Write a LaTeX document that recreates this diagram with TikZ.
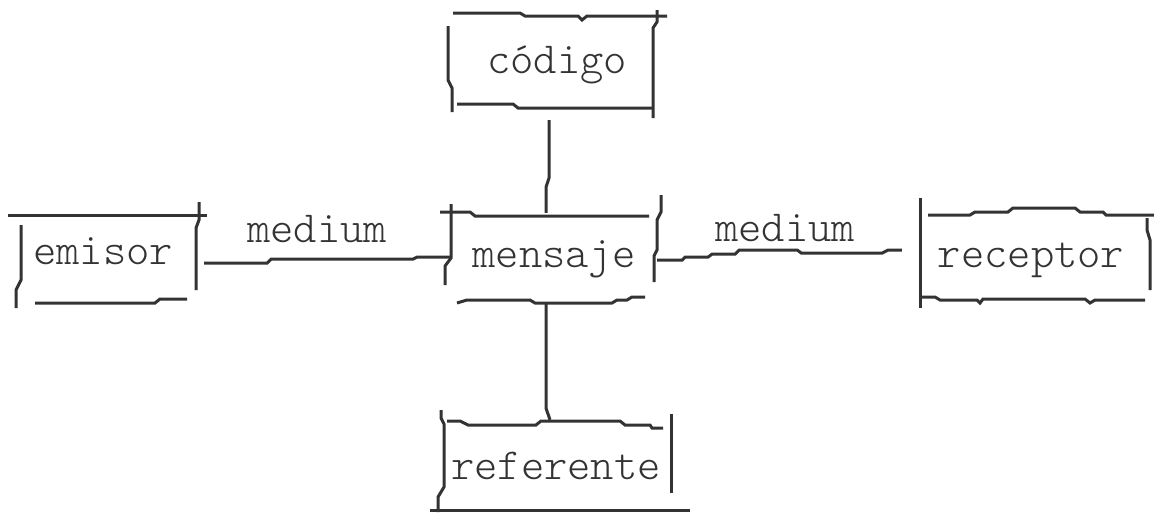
\documentclass[tikz,border=0pt]{standalone}
\usepackage{fontspec}
\setmonofont{Latin Modern Mono Light}
\usepackage{tikz}
\usetikzlibrary{positioning}

\begin{document}
\begin{tikzpicture}[x=1pt,y=-1pt]
\tikzset{pen/.style={line width=3pt, draw=black!80},
  box/.style={inner sep=0pt, text=black!80, font=\ttfamily\fontsize{44.4}{48}\selectfont,
    text height=19pt, text depth=0pt},
  word/.style={box}}
\useasboundingbox (0,0) rectangle (1154,512);
\node[box, minimum width=206, minimum height=94] (codigo) at (557,64) {código};
\node[box, minimum width=206, minimum height=87] (mensaje) at (554,258) {mensaje};
\node[box, minimum width=175, minimum height=87] (emisor) at (103,255) {emisor};
\node[box, minimum width=227, minimum height=85] (receptor) at (1031,258) {receptor};
\node[box, minimum width=228, minimum height=88] (referente) at (556,470) {referente};
\node[word] (medium1) at (317,233) {medium};
\node[word] (medium2) at (785,232) {medium};
% codigo
\draw[pen] (453,13) -- (520,13) -- (525,16) -- (578,16) -- (582,20) -- (587,16) -- (667,16);
\draw[pen] (657,10) -- (657,22) -- (653,28) -- (653,118);
\draw[pen] (448,26) -- (448,80) -- (452,88) -- (452,112);
\draw[pen] (457,104) -- (513,104) -- (518,108) -- (653,108);
% mensaje
\draw[pen] (440,212) -- (470,212) -- (475,216) -- (649,216);
\draw[pen] (451,204) -- (451,258) -- (445,266) -- (445,285);
\draw[pen] (661,195) -- (661,212) -- (657,220) -- (657,250) -- (654,256) -- (654,282);
\draw[pen] (457,303) -- (467,300) -- (530,300) -- (535,303) -- (612,303) -- (617,300) -- (627,300) -- (632,297) -- (645,297);
% referente
\draw[pen] (447,421) -- (460,421) -- (468,425) -- (536,425) -- (541,421) -- (620,421) -- (625,425) -- (650,425) -- (652,428) -- (663,428);
\draw[pen] (441,410) -- (441,418) -- (444,424) -- (444,487) -- (438,497) -- (438,512);
\draw[pen] (671,414) -- (671,493);
\draw[pen] (430,510) -- (690,510);
% emisor
\draw[pen] (8,215) -- (207,215);
\draw[pen] (199,202) -- (199,220) -- (196,228) -- (196,290);
\draw[pen] (21,225) -- (21,280) -- (16,290) -- (16,308);
\draw[pen] (35,303) -- (155,303) -- (160,299) -- (187,299);
% receptor
\draw[pen] (920,198) -- (920,308);
\draw[pen] (928,215) -- (970,215) -- (975,212) -- (1008,212) -- (1013,208) -- (1075,208) -- (1080,212) -- (1103,212) -- (1106,215) -- (1154,215);
\draw[pen] (1147,218) -- (1147,230) -- (1150,240) -- (1150,290);
\draw[pen] (920,297) -- (935,297) -- (940,300) -- (977,300) -- (980,303) -- (983,299) -- (1085,299) -- (1090,303) -- (1095,300) -- (1145,300);
% connectors
\draw[pen] ([shift={(-8,9)}]codigo.south) -- ++(0,58) -- ++(-3,9) -- ([shift={(-8,-1.5)}]mensaje.north);
\draw[pen] ([shift={(13.5,8)}]emisor.east) -- ++(63,0) -- ++(4,-4) -- ++(142,0) -- ++(4,-2) -- ([shift={(-1,-1)}]mensaje.west);
\draw[pen] ([shift={(0,2)}]mensaje.east) -- ++(25,0) -- ++(3,-3) -- ++(23,0) -- ++(4,-3) -- ++(23,0) -- ++(4,-4) -- ++(58,0) -- ++(4,3) -- ++(81,0) -- ++(6,-3) -- ([shift={(-15.5,-8)}]receptor.west);
\draw[pen] ([shift={(-8,1.5)}]mensaje.south) -- ++(0,105) -- ([shift={(-6,-6)}]referente.north);
\end{tikzpicture}
\end{document}
